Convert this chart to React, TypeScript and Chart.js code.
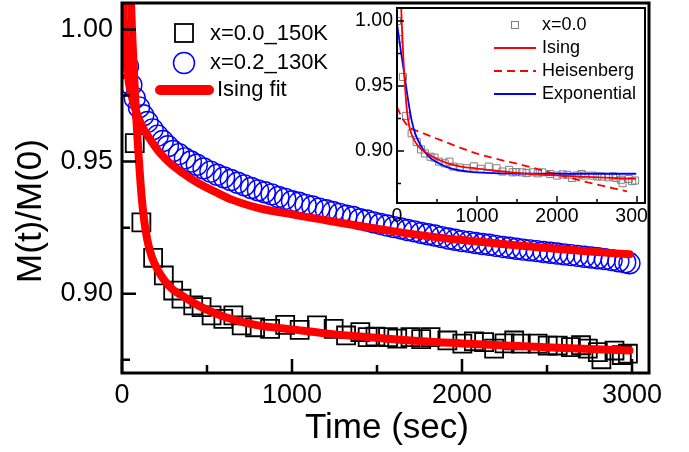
import React, { useEffect, useRef } from 'react';
import { Chart, registerables } from 'chart.js';

Chart.register(...registerables);

const FONT = '"Liberation Sans", Arial, sans-serif';

// ---------- data ----------
// x = 0.0, 150 K : open squares
const T_X00 = [0, 18, 75, 114, 183, 246, 301, 350, 419, 468, 527, 596, 655, 704, 783, 871, 960, 1045, 1147, 1245, 1318, 1402, 1445, 1491, 1565, 1619, 1697, 1760, 1815, 1914, 2002, 2070, 2130, 2189, 2250, 2307, 2346, 2445, 2504, 2563, 2641, 2700, 2740, 2799, 2820, 2897, 2940, 2976];
const M_X00 = [1.000, 0.986, 0.957, 0.927, 0.9136, 0.9069, 0.9012, 0.8981, 0.8956, 0.8949, 0.8918, 0.8905, 0.8918, 0.8880, 0.8873, 0.8867, 0.8882, 0.8863, 0.8880, 0.8867, 0.8842, 0.8855, 0.8836, 0.8838, 0.8836, 0.8830, 0.8836, 0.8828, 0.8836, 0.8823, 0.8811, 0.8820, 0.8817, 0.8792, 0.8812, 0.8823, 0.8811, 0.8811, 0.8804, 0.8804, 0.8798, 0.8805, 0.8792, 0.8779, 0.8752, 0.8785, 0.8768, 0.8773];

// x = 0.2, 130 K : open circles
const T_X02 = [0, 15, 35, 55, 75, 100, 125, 150, 180, 210, 240, 270, 300, 335, 370, 405, 440, 480, 520, 560, 600, 640, 680, 720, 760, 800, 840, 880, 920, 960, 1000, 1040, 1080, 1120, 1160, 1200, 1240, 1280, 1320, 1360, 1400, 1440, 1480, 1520, 1560, 1600, 1640, 1680, 1720, 1760, 1800, 1840, 1880, 1920, 1960, 2000, 2040, 2080, 2120, 2160, 2200, 2240, 2280, 2320, 2360, 2400, 2440, 2480, 2520, 2560, 2600, 2640, 2680, 2720, 2760, 2800, 2840, 2880, 2920, 2960, 2985];
const M_X02 = [0.999, 0.994, 0.986, 0.979, 0.974, 0.9705, 0.9675, 0.9650, 0.9622, 0.9598, 0.9578, 0.9558, 0.9540, 0.9528, 0.9512, 0.9500, 0.9488, 0.9474, 0.9462, 0.9450, 0.9440, 0.9430, 0.9420, 0.9410, 0.9400, 0.9391, 0.9384, 0.9376, 0.9366, 0.9359, 0.9350, 0.9344, 0.9336, 0.9330, 0.9322, 0.9316, 0.9309, 0.9302, 0.9295, 0.9290, 0.9282, 0.9277, 0.9270, 0.9264, 0.9258, 0.9252, 0.9247, 0.9241, 0.9236, 0.9230, 0.9225, 0.9220, 0.9214, 0.9209, 0.9204, 0.9199, 0.9196, 0.9192, 0.9188, 0.9185, 0.9181, 0.9177, 0.9174, 0.9170, 0.9167, 0.9164, 0.9161, 0.9158, 0.9155, 0.9152, 0.9149, 0.9146, 0.9143, 0.9140, 0.9137, 0.9134, 0.9131, 0.9127, 0.9123, 0.9119, 0.9115];

// Ising fit, x = 0.0
const T_FIT00 = [40, 50, 60, 70, 80, 90, 100, 115, 130, 150, 175, 210, 250, 300, 360, 450, 550, 650, 800, 1000, 1200, 1400, 1650, 2000, 2300, 2600, 2985];
const M_FIT00 = [1.035, 1.015, 0.998, 0.984, 0.971, 0.960, 0.950, 0.937, 0.928, 0.920, 0.914, 0.909, 0.905, 0.9015, 0.899, 0.8955, 0.8925, 0.8903, 0.888, 0.8865, 0.885, 0.8838, 0.8825, 0.8812, 0.8803, 0.8795, 0.8785];

// Ising fit, x = 0.2
const T_FIT02 = [2, 8, 15, 25, 40, 60, 80, 100, 130, 170, 220, 280, 350, 450, 550, 650, 800, 1000, 1200, 1400, 1600, 1800, 2000, 2250, 2500, 2750, 2985];
const M_FIT02 = [1.02, 1.008, 0.998, 0.988, 0.980, 0.974, 0.9695, 0.966, 0.962, 0.958, 0.9535, 0.9495, 0.946, 0.9418, 0.9385, 0.9355, 0.9325, 0.9300, 0.9278, 0.9256, 0.9236, 0.9218, 0.9203, 0.9187, 0.9173, 0.9160, 0.9149];

// inset: Heisenberg fit (dashed)
const T_HEIS = [0, 50, 100, 160, 250, 330, 540, 750, 950, 1160, 1580, 2000, 2410, 2875];
const M_HEIS = [0.934, 0.927, 0.922, 0.918, 0.9155, 0.9135, 0.9085, 0.9035, 0.899, 0.8952, 0.889, 0.882, 0.8755, 0.869];

// inset: Exponential fit
const T_EXP = [0, 25, 50, 80, 120, 150, 185, 230, 290, 350, 420, 540, 650, 790, 950, 1200, 1600, 2000, 2500, 2990];
const M_EXP = [0.998, 0.987, 0.976, 0.964, 0.947, 0.935, 0.923, 0.913, 0.905, 0.899, 0.8945, 0.890, 0.887, 0.885, 0.8838, 0.883, 0.8826, 0.8825, 0.8825, 0.8825];

const X_MAJOR = [0, 1000, 2000, 3000];
const X_MINOR = [500, 1500, 2500];
const Y_MAJOR = [0.9, 0.95, 1.0];
const Y_MINOR = [0.875, 0.925, 0.975];

const pts = (t: number[], m: number[]) => t.map((x, i) => ({ x, y: m[i] }));

function axesPlugin(cfg: { frame: number; tick: number; major: number; minor: number }) {
  return {
    id: 'inwardAxes',
    afterDatasetsDraw(chart: any) {
      const { ctx, chartArea: a } = chart;
      const xs = chart.scales.x;
      const ys = chart.scales.y;
      ctx.save();
      ctx.strokeStyle = '#000';
      ctx.lineWidth = cfg.tick;
      ctx.beginPath();
      const xt = (vals: number[], len: number) => vals.forEach((v) => {
        const p = xs.getPixelForValue(v);
        ctx.moveTo(p, a.bottom); ctx.lineTo(p, a.bottom - len);
      });
      const yt = (vals: number[], len: number) => vals.forEach((v) => {
        const p = ys.getPixelForValue(v);
        ctx.moveTo(a.left, p); ctx.lineTo(a.left + len, p);
      });
      xt(X_MAJOR, cfg.major); xt(X_MINOR, cfg.minor);
      yt(Y_MAJOR, cfg.major); yt(Y_MINOR, cfg.minor);
      ctx.stroke();
      ctx.lineWidth = cfg.frame;
      ctx.strokeRect(a.left, a.top, a.right - a.left, a.bottom - a.top);
      ctx.restore();
    },
  };
}

const mainDecor = {
  id: 'mainDecor',
  afterDraw(chart: any) {
    const { ctx } = chart;
    ctx.save();
    // axis titles
    ctx.fillStyle = '#000';
    ctx.font = `35px ${FONT}`;
    ctx.textAlign = 'center';
    ctx.textBaseline = 'middle';
    ctx.fillText('Time (sec)', 387, 428);
    ctx.save();
    ctx.translate(31, 211);
    ctx.rotate(-Math.PI / 2);
    ctx.fillText('M(t)/M(0)', 0, 0);
    ctx.restore();
    // legend
    ctx.strokeStyle = '#000';
    ctx.lineWidth = 1.8;
    ctx.strokeRect(175, 24, 18, 18);
    ctx.strokeStyle = '#0000ff';
    ctx.lineWidth = 1.5;
    ctx.beginPath();
    ctx.arc(184, 63, 10.5, 0, Math.PI * 2);
    ctx.stroke();
    ctx.strokeStyle = '#ff0000';
    ctx.lineWidth = 10;
    ctx.lineCap = 'round';
    ctx.beginPath();
    ctx.moveTo(160, 90); ctx.lineTo(209, 90);
    ctx.stroke();
    ctx.font = `22px ${FONT}`;
    ctx.textAlign = 'left';
    ctx.fillStyle = '#000';
    ctx.fillText('x=0.0_150K', 210, 34);
    ctx.fillText('x=0.2_130K', 210, 63);
    ctx.fillText('Ising fit', 217, 90);
    ctx.restore();
  },
};

const INSET_LEFT = 340;

const insetDecor = {
  id: 'insetDecor',
  afterDraw(chart: any) {
    const { ctx } = chart;
    const ox = -INSET_LEFT;
    ctx.save();
    ctx.strokeStyle = '#808080';
    ctx.lineWidth = 1;
    ctx.strokeRect(511.5 + ox, 21.5, 7, 7);
    const line = (y: number, color: string, dash: number[]) => {
      ctx.strokeStyle = color;
      ctx.lineWidth = 1.8;
      ctx.setLineDash(dash);
      ctx.beginPath();
      ctx.moveTo(494 + ox, y); ctx.lineTo(536 + ox, y);
      ctx.stroke();
    };
    line(48, '#ff0000', []);
    line(71, '#ff0000', [8, 5]);
    line(94, '#0000ff', []);
    ctx.setLineDash([]);
    ctx.fillStyle = '#000';
    ctx.font = `18px ${FONT}`;
    ctx.textAlign = 'left';
    ctx.textBaseline = 'middle';
    ctx.fillText('x=0.0', 542 + ox, 25);
    ctx.fillText('Ising', 542 + ox, 48);
    ctx.fillText('Heisenberg', 542 + ox, 71);
    ctx.fillText('Exponential', 542 + ox, 94);
    ctx.restore();
  },
};

function scalesFor(o: {
  xmin: number; xmax: number; ymin: number; ymax: number;
  yWidth: number; xHeight: number; tickSize: number; yPad: number; xPad: number;
}) {
  return {
    x: {
      type: 'linear', min: o.xmin, max: o.xmax,
      grid: { display: false, drawTicks: false }, border: { display: false },
      afterBuildTicks: (s: any) => { s.ticks = X_MAJOR.map((v) => ({ value: v })); },
      afterFit: (s: any) => { s.height = o.xHeight; s.paddingLeft = 0; s.paddingRight = 0; },
      ticks: {
        font: { family: FONT, size: o.tickSize }, color: '#000', padding: o.xPad,
        maxRotation: 0, autoSkip: false, callback: (v: any) => String(Math.round(Number(v))),
      },
    },
    y: {
      type: 'linear', min: o.ymin, max: o.ymax,
      grid: { display: false, drawTicks: false }, border: { display: false },
      afterBuildTicks: (s: any) => { s.ticks = Y_MAJOR.map((v) => ({ value: v })); },
      afterFit: (s: any) => { s.width = o.yWidth; s.paddingTop = 0; s.paddingBottom = 0; },
      ticks: {
        font: { family: FONT, size: o.tickSize }, color: '#000', padding: o.yPad,
        autoSkip: false, callback: (v: any) => Number(v).toFixed(2),
      },
    },
  };
}

export default function App() {
  const mainRef = useRef<HTMLCanvasElement>(null);
  const insetRef = useRef<HTMLCanvasElement>(null);

  useEffect(() => {
    const main = new Chart(mainRef.current as HTMLCanvasElement, {
      type: 'scatter',
      data: {
        datasets: [
          {
            label: 'Ising fit x=0.2', data: pts(T_FIT02, M_FIT02), showLine: true,
            borderColor: '#ff0000', borderWidth: 8, pointRadius: 0, borderCapStyle: 'round',
            borderJoinStyle: 'round', cubicInterpolationMode: 'monotone',
          },
          {
            label: 'Ising fit x=0.0', data: pts(T_FIT00, M_FIT00), showLine: true,
            borderColor: '#ff0000', borderWidth: 8, pointRadius: 0, borderCapStyle: 'round',
            borderJoinStyle: 'round', cubicInterpolationMode: 'monotone',
          },
          {
            label: 'x=0.2_130K', data: pts(T_X02, M_X02), showLine: false,
            pointStyle: 'circle', pointRadius: 10.5, pointBorderColor: '#0000ff',
            pointBackgroundColor: 'rgba(0,0,0,0)', pointBorderWidth: 1.4,
          },
          {
            label: 'x=0.0_150K', data: pts(T_X00, M_X00), showLine: false,
            pointStyle: 'rect', pointRadius: 12.7, pointBorderColor: '#000',
            pointBackgroundColor: 'rgba(0,0,0,0)', pointBorderWidth: 1.8,
          },
        ],
      } as any,
      options: {
        responsive: false, animation: false, devicePixelRatio: 1, events: [],
        layout: { autoPadding: false, padding: { left: 0, right: 40, top: 3, bottom: 0 } },
        plugins: { legend: { display: false }, tooltip: { enabled: false } },
        scales: scalesFor({ xmin: 0, xmax: 3100, ymin: 0.87, ymax: 1.01, yWidth: 122, xHeight: 79, tickSize: 27, yPad: 9, xPad: 6 }) as any,
      } as any,
      plugins: [axesPlugin({ frame: 3, tick: 2.5, major: 14, minor: 8 }), mainDecor],
    });

    const inset = new Chart(insetRef.current as HTMLCanvasElement, {
      type: 'scatter',
      data: {
        datasets: [
          {
            label: 'Ising', data: pts(T_FIT00, M_FIT00), showLine: true, borderColor: '#ff0000',
            borderWidth: 1.8, pointRadius: 0, cubicInterpolationMode: 'monotone',
          },
          {
            label: 'Exponential', data: pts(T_EXP, M_EXP), showLine: true, borderColor: '#0000ff',
            borderWidth: 1.8, pointRadius: 0, cubicInterpolationMode: 'monotone',
          },
          {
            label: 'Heisenberg', data: pts(T_HEIS, M_HEIS), showLine: true, borderColor: '#ff0000',
            borderWidth: 1.8, borderDash: [8, 5], pointRadius: 0, cubicInterpolationMode: 'monotone',
          },
          {
            label: 'x=0.0', data: pts(T_X00, M_X00), showLine: false, pointStyle: 'rect',
            pointRadius: 5, pointBorderColor: '#808080', pointBackgroundColor: 'rgba(0,0,0,0)',
            pointBorderWidth: 1,
          },
        ],
      } as any,
      options: {
        responsive: false, animation: false, devicePixelRatio: 1, events: [],
        layout: { autoPadding: false, padding: { left: 0, right: 3, top: 8, bottom: 0 } },
        plugins: { legend: { display: false }, tooltip: { enabled: false } },
        scales: scalesFor({ xmin: 0, xmax: 3100, ymin: 0.86, ymax: 1.01, yWidth: 57, xHeight: 32, tickSize: 19.5, yPad: 4, xPad: 2 }) as any,
      } as any,
      plugins: [axesPlugin({ frame: 2, tick: 1.5, major: 7, minor: 4 }), insetDecor],
    });

    return () => { main.destroy(); inset.destroy(); };
  }, []);

  return (
    <div style={{ position: 'absolute', left: 0, top: 0, width: 689, height: 452, background: '#fff' }}>
      <canvas ref={mainRef} width={689} height={452} style={{ position: 'absolute', left: 0, top: 0 }} />
      <canvas ref={insetRef} width={308} height={235} style={{ position: 'absolute', left: INSET_LEFT, top: 0 }} />
    </div>
  );
}
